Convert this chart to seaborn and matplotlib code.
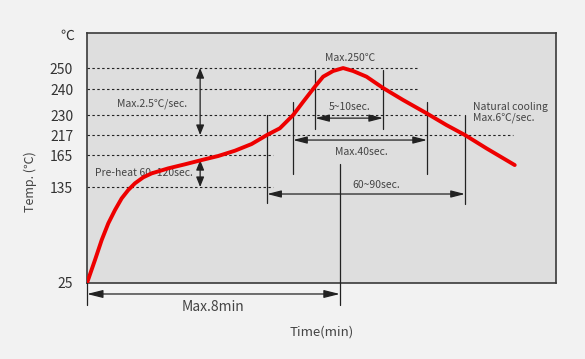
import numpy as np
import pandas as pd
import matplotlib
matplotlib.use("Agg")
import matplotlib.pyplot as plt
import seaborn as sns

# ---- data ----
tick_temps = [25, 135, 165, 217, 230, 240, 250]
tick_labels = ["25", "135", "165", "217", "230", "240", "250"]

curve_time = [0, 0.253, 0.465, 0.674, 0.885, 1.097, 1.306, 1.518, 1.780, 2.046,
              2.571, 3.099, 3.627, 4.152, 4.680, 5.208, 5.692, 6.103, 6.523, 6.840,
              7.209, 7.472, 7.788, 8.104, 8.42, 8.844, 9.369, 10.0, 10.742, 11.374,
              11.96, 12.639, 13.534]
curve_temp = [25, 51.4, 74.3, 93.4, 108.6, 122.0, 131.6, 138.5, 144.1, 147.8,
              152.5, 156.3, 160.3, 164.1, 176.2, 193.6, 217, 221.4, 230, 235.1,
              241.1, 245.9, 248.6, 250, 248.6, 245.9, 240.5, 235.8, 230.7, 223.5,
              217, 182.4, 155.6]

# reference levels (dashed) and where they end (minutes)
level_temps = [250, 240, 230, 217, 165, 135]
level_ends = [10.44, 10.44, 11.80, 13.48, 5.89, 5.89]

# marker times (minutes)
t_preheat_end = 5.70
t_230_up, t_230_down = 6.52, 10.76
t_240_up, t_240_down = 7.22, 9.37
t_217_down = 11.96
t_8min = 8.0
t_ramp = 3.58

# uneven temperature axis of the diagram (knots of the drawn scale)
scale_temp = [-85, 25, 135, 165, 217, 230, 240, 250, 270]
scale_pos = [-96, 0, 96, 128, 148, 168, 194, 215, 257]

df = pd.DataFrame({"time": curve_time, "temp": curve_temp})

# ---- style ----
sns.set_theme(style="white")
plt.rcParams["font.family"] = ["Noto Sans CJK SC", "DejaVu Sans"]
txt = "#444444"

fig = plt.figure(figsize=(5.85, 3.59), dpi=100, facecolor="#f2f2f2")
ax = fig.add_axes([87 / 585, 1 - 283 / 359, (556 - 87) / 585, (283 - 33) / 359])
ax.set_facecolor("#dedede")

fwd = lambda v: np.interp(v, scale_temp, scale_pos)
inv = lambda p: np.interp(p, scale_pos, scale_temp)
ax.set_yscale("function", functions=(fwd, inv))
ax.set_xlim(0, 14.84)
ax.set_ylim(25, 266.7)

for s in ax.spines.values():
    s.set_color("#3a3a3a")
    s.set_linewidth(1.2)

ax.set_yticks(tick_temps)
ax.set_yticklabels(tick_labels)
ax.set_xticks([])
ax.tick_params(axis="y", length=0, pad=10, labelsize=10, labelcolor="#333333")
ax.yaxis.set_minor_locator(matplotlib.ticker.NullLocator())

# dashed levels
for lv, xe in zip(level_temps, level_ends):
    ax.plot([0, xe], [lv, lv], color="#222222", lw=0.8, ls=(0, (2.2, 2.2)), zorder=2)

lc = "#222222"
def vline(x, y0, y1):
    ax.plot([x, x], [y0, y1], color=lc, lw=0.9, zorder=3, clip_on=False)

def arrow(x0, y0, x1, y1, hl=0.7, hw=0.18):
    ax.annotate("", xy=(x1, y1), xytext=(x0, y0),
                arrowprops=dict(arrowstyle=f"<|-|>,head_length={hl},head_width={hw}",
                                color=lc, lw=0.9, shrinkA=0, shrinkB=0),
                zorder=3, annotation_clip=False)

vline(t_preheat_end, 230, 116.7)
vline(t_230_up, 235, 147.2)
vline(t_230_down, 235, 147.2)
vline(t_240_up, 249, 220.9)
vline(t_240_down, 249, 220.9)
vline(t_217_down, 230, 115.5)
vline(t_8min, 156.6, -0.2)
vline(0, 25, -0.2)

arrow(0, 12.4, t_8min, 12.4, hl=0.8, hw=0.2)
arrow(t_preheat_end, 127, t_217_down, 127)
arrow(t_230_up, 204, t_230_down, 204)
arrow(t_240_up, 228, t_240_down, 228)
arrow(t_ramp, 250, t_ramp, 217, hl=0.5, hw=0.2)
arrow(t_ramp, 160.3, t_ramp, 135, hl=0.5, hw=0.2)

# curve
sns.lineplot(data=df, x="time", y="temp", sort=False, estimator=None, ax=ax,
             color="#ee0000", lw=2.8, zorder=5,
             solid_joinstyle="round", solid_capstyle="round")
ax.set_xlabel("")
ax.set_ylabel("")

fs = 7.5
ax.text(2.06, 234.2, "Max.2.5℃/sec.", fontsize=fs, color=txt, ha="center", va="center", zorder=4)
ax.text(1.79, 148.1, "Pre-heat 60~120sec.", fontsize=fs, color=txt, ha="center", va="center", zorder=4)
ax.text(8.32, 254.8, "Max.250℃", fontsize=fs, color=txt, ha="center", va="center", zorder=4)
ax.text(8.32, 233, "5~10sec.", fontsize=fs, color=txt, ha="center", va="center", zorder=4)
ax.text(8.67, 172.8, "Max.40sec.", fontsize=fs, color=txt, ha="center", va="center", zorder=4)
ax.text(9.15, 136.9, "60~90sec.", fontsize=fs, color=txt, ha="center", va="center", zorder=4)
ax.text(12.22, 233, "Natural cooling", fontsize=fs, color=txt, ha="left", va="center", zorder=4)
ax.text(12.22, 228, "Max.6℃/sec.", fontsize=fs, color=txt, ha="left", va="center", zorder=4)
ax.text(3.99, -2.5, "Max.8min", fontsize=10, color=txt, ha="center", va="center", clip_on=False)

fig.text(322 / 585, 1 - 332 / 359, "Time(min)", fontsize=9.5, color=txt, ha="center", va="center")
fig.text(30 / 585, 1 - 182 / 359, "Temp. (℃)", fontsize=9, color=txt, ha="center", va="center", rotation=90)
fig.text(67 / 585, 1 - 36 / 359, "℃", fontsize=10, color="#333333", ha="center", va="center")

fig.savefig("out.png", dpi=100, facecolor=fig.get_facecolor())
